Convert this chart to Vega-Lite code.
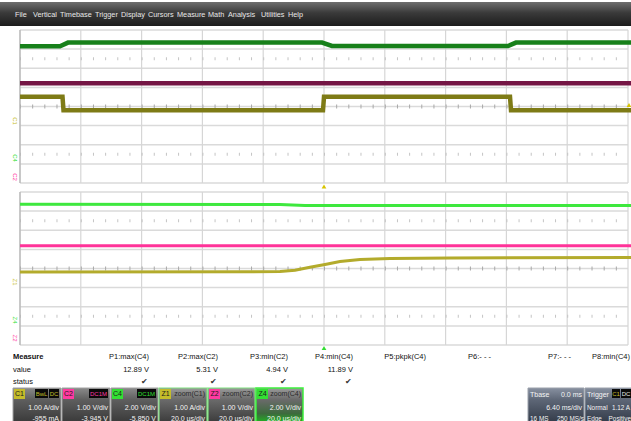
{
  "$schema": "https://vega.github.io/schema/vega-lite/v6.json",
  "width": 631,
  "height": 421,
  "padding": 0,
  "autosize": {"type": "none"},
  "background": "white",
  "config": {
    "view": {"stroke": null},
    "text": {"font": "Liberation Sans", "baseline": "middle"}
  },
  "encoding": {
    "x": {"field": "x", "type": "quantitative", "scale": {"domain": [0, 631], "nice": false, "zero": false}, "axis": null},
    "y": {"field": "y", "type": "quantitative", "scale": {"domain": [0, 421], "nice": false, "zero": false, "reverse": true}, "axis": null}
  },
  "layer": [
    {
      "data": {"values": [{"x": 0, "x2": 631, "y": 2, "y2": 26}]},
      "mark": {"type": "rect", "color": {"gradient": "linear", "x1": 0, "y1": 0, "x2": 0, "y2": 1, "stops": [{"offset": 0, "color": "#6e6e6e"}, {"offset": 0.45, "color": "#3a3a3a"}, {"offset": 1, "color": "#1c1c1c"}]}},
      "encoding": {"x2": {"field": "x2"}, "y2": {"field": "y2"}}
    },
    {
      "data": {"values": [
        {"x": 15, "y": 15, "t": "File"}, {"x": 33, "y": 15, "t": "Vertical"}, {"x": 60, "y": 15, "t": "Timebase"},
        {"x": 95, "y": 15, "t": "Trigger"}, {"x": 121, "y": 15, "t": "Display"}, {"x": 148, "y": 15, "t": "Cursors"},
        {"x": 177, "y": 15, "t": "Measure"}, {"x": 208, "y": 15, "t": "Math"}, {"x": 228, "y": 15, "t": "Analysis"},
        {"x": 261, "y": 15, "t": "Utilities"}, {"x": 288, "y": 15, "t": "Help"}
      ]},
      "mark": {"type": "text", "align": "left", "color": "#e8e8e8", "fontSize": 7.3},
      "encoding": {"text": {"field": "t"}}
    },
    {
      "data": {"values": [
        {"x": 20, "x2": 628, "y": 30}, {"x": 20, "x2": 628, "y": 49.1}, {"x": 20, "x2": 628, "y": 68.3}, {"x": 20, "x2": 628, "y": 87.4},
        {"x": 20, "x2": 628, "y": 106.5}, {"x": 20, "x2": 628, "y": 125.6}, {"x": 20, "x2": 628, "y": 144.8}, {"x": 20, "x2": 628, "y": 163.9},
        {"x": 20, "x2": 628, "y": 183},
        {"x": 20, "x2": 628, "y": 192}, {"x": 20, "x2": 628, "y": 211.1}, {"x": 20, "x2": 628, "y": 230.3}, {"x": 20, "x2": 628, "y": 249.4},
        {"x": 20, "x2": 628, "y": 268.5}, {"x": 20, "x2": 628, "y": 287.6}, {"x": 20, "x2": 628, "y": 306.8}, {"x": 20, "x2": 628, "y": 325.9},
        {"x": 20, "x2": 628, "y": 345}
      ]},
      "mark": {"type": "rule", "color": "#dadada", "strokeWidth": 1.5},
      "encoding": {"x2": {"field": "x2"}}
    },
    {
      "data": {"values": [
        {"x": 20, "y": 30, "y2": 183}, {"x": 80.8, "y": 30, "y2": 183}, {"x": 141.6, "y": 30, "y2": 183}, {"x": 202.4, "y": 30, "y2": 183},
        {"x": 263.2, "y": 30, "y2": 183}, {"x": 324, "y": 30, "y2": 183}, {"x": 384.8, "y": 30, "y2": 183}, {"x": 445.6, "y": 30, "y2": 183},
        {"x": 506.4, "y": 30, "y2": 183}, {"x": 567.2, "y": 30, "y2": 183}, {"x": 628, "y": 30, "y2": 183},
        {"x": 20, "y": 192, "y2": 345}, {"x": 80.8, "y": 192, "y2": 345}, {"x": 141.6, "y": 192, "y2": 345}, {"x": 202.4, "y": 192, "y2": 345},
        {"x": 263.2, "y": 192, "y2": 345}, {"x": 324, "y": 192, "y2": 345}, {"x": 384.8, "y": 192, "y2": 345}, {"x": 445.6, "y": 192, "y2": 345},
        {"x": 506.4, "y": 192, "y2": 345}, {"x": 567.2, "y": 192, "y2": 345}, {"x": 628, "y": 192, "y2": 345}
      ]},
      "mark": {"type": "rule", "color": "#d6d6d6", "strokeWidth": 1.2},
      "encoding": {"y2": {"field": "y2"}}
    },
    {
      "data": {"values": [
        {"x": 20, "x2": 628, "y": 58.7}, {"x": 20, "x2": 628, "y": 154.3},
        {"x": 20, "x2": 628, "y": 220.7}, {"x": 20, "x2": 628, "y": 316.3}
      ]},
      "mark": {"type": "rule", "color": "#c4c4c4", "strokeWidth": 3, "strokeDash": [1, 11.16]},
      "encoding": {"x2": {"field": "x2"}}
    },
    {
      "data": {"values": [
        {"x": 20, "x2": 628, "y": 106.5}, {"x": 20, "x2": 628, "y": 268.5}
      ]},
      "mark": {"type": "rule", "color": "#a8a8a8", "strokeWidth": 4, "strokeDash": [1, 11.16]},
      "encoding": {"x2": {"field": "x2"}}
    },
    {
      "data": {"values": [
        {"x": 20, "y": 30, "y2": 183}, {"x": 20, "y": 192, "y2": 345}
      ]},
      "mark": {"type": "rule", "color": "#b4b4b4", "strokeWidth": 1.2},
      "encoding": {"y2": {"field": "y2"}}
    },
    {
      "data": {"values": [
        {"ch": "C4", "x": 20, "y": 46.2}, {"ch": "C4", "x": 60, "y": 46.2}, {"ch": "C4", "x": 68, "y": 42.6}, {"ch": "C4", "x": 322, "y": 42.6},
        {"ch": "C4", "x": 332, "y": 46}, {"ch": "C4", "x": 508, "y": 46}, {"ch": "C4", "x": 516, "y": 42.6}, {"ch": "C4", "x": 631, "y": 42.6},
        {"ch": "C2", "x": 20, "y": 83.3}, {"ch": "C2", "x": 631, "y": 83.3},
        {"ch": "C1", "x": 20, "y": 96.8}, {"ch": "C1", "x": 62.5, "y": 96.8}, {"ch": "C1", "x": 63.5, "y": 110.3}, {"ch": "C1", "x": 323, "y": 110.3},
        {"ch": "C1", "x": 324, "y": 96.8}, {"ch": "C1", "x": 510, "y": 96.8}, {"ch": "C1", "x": 511, "y": 110.3}, {"ch": "C1", "x": 631, "y": 110.3}
      ]},
      "mark": {"type": "line", "strokeWidth": 4.5},
      "encoding": {"color": {"field": "ch", "type": "nominal", "legend": null,
        "scale": {"domain": ["C4", "C2", "C1", "Z4", "Z2", "Z1"], "range": ["#17801a", "#751645", "#7e7b16", "#3ee83e", "#ff3399", "#b3ab2c"]}}}
    },
    {
      "data": {"values": [
        {"ch": "Z4", "x": 20, "y": 204.2}, {"ch": "Z4", "x": 280, "y": 204.5}, {"ch": "Z4", "x": 305, "y": 205.4}, {"ch": "Z4", "x": 631, "y": 205.4},
        {"ch": "Z2", "x": 20, "y": 245.7}, {"ch": "Z2", "x": 631, "y": 245.7},
        {"ch": "Z1", "x": 20, "y": 272}, {"ch": "Z1", "x": 280, "y": 271.6}, {"ch": "Z1", "x": 295, "y": 270.2}, {"ch": "Z1", "x": 310, "y": 267.2},
        {"ch": "Z1", "x": 325, "y": 264.5}, {"ch": "Z1", "x": 340, "y": 261.6}, {"ch": "Z1", "x": 360, "y": 259.6}, {"ch": "Z1", "x": 390, "y": 258.5},
        {"ch": "Z1", "x": 450, "y": 257.9}, {"ch": "Z1", "x": 631, "y": 257.5}
      ]},
      "mark": {"type": "line", "strokeWidth": 3},
      "encoding": {"color": {"field": "ch", "type": "nominal", "legend": null,
        "scale": {"domain": ["C4", "C2", "C1", "Z4", "Z2", "Z1"], "range": ["#17801a", "#751645", "#7e7b16", "#3ee83e", "#ff3399", "#b3ab2c"]}}}
    },
    {
      "data": {"values": [
        {"ch": "C1", "x": 15, "y": 121, "t": "C1"}, {"ch": "C4", "x": 15, "y": 158, "t": "C4"}, {"ch": "C2", "x": 15, "y": 177, "t": "C2"},
        {"ch": "Z1", "x": 15, "y": 282, "t": "Z1"}, {"ch": "Z4", "x": 15, "y": 320, "t": "Z4"}, {"ch": "Z2", "x": 15, "y": 338, "t": "Z2"}
      ]},
      "mark": {"type": "text", "align": "center", "fontSize": 6, "angle": 90},
      "encoding": {"text": {"field": "t"}, "fill": {"field": "ch", "type": "nominal", "legend": null,
        "scale": {"domain": ["C1", "C2", "C4", "Z1", "Z2", "Z4"], "range": ["#c4bc2a", "#ff3aa0", "#33e033", "#c4bc2a", "#ff3aa0", "#33e033"]}}}
    },
    {
      "data": {"values": [{"x": 324, "y": 186.5}, {"x": 629, "y": 105}]},
      "mark": {"type": "point", "shape": "triangle-up", "filled": true, "size": 22, "color": "#d8c400", "opacity": 1}
    },
    {
      "data": {"values": [{"x": 324, "y": 348}]},
      "mark": {"type": "point", "shape": "triangle-up", "filled": true, "size": 22, "color": "#33dd33", "opacity": 1}
    },
    {
      "data": {"values": [{"x": 13, "y": 357, "t": "Measure"}]},
      "mark": {"type": "text", "align": "left", "fontSize": 7.5, "fontWeight": "bold", "color": "#111"},
      "encoding": {"text": {"field": "t"}}
    },
    {
      "data": {"values": [{"x": 13, "y": 370, "t": "value"}, {"x": 13, "y": 382, "t": "status"}]},
      "mark": {"type": "text", "align": "left", "fontSize": 7.5, "color": "#111"},
      "encoding": {"text": {"field": "t"}}
    },
    {
      "data": {"values": [
        {"x": 149, "y": 357, "t": "P1:max(C4)"}, {"x": 218, "y": 357, "t": "P2:max(C2)"}, {"x": 288, "y": 357, "t": "P3:min(C2)"},
        {"x": 353, "y": 357, "t": "P4:min(C4)"}, {"x": 426, "y": 357, "t": "P5:pkpk(C4)"}, {"x": 491, "y": 357, "t": "P6:- - -"},
        {"x": 571, "y": 357, "t": "P7:- - -"}, {"x": 630, "y": 357, "t": "P8:min(C4)"},
        {"x": 149, "y": 370, "t": "12.89 V"}, {"x": 218, "y": 370, "t": "5.31 V"}, {"x": 288, "y": 370, "t": "4.94 V"}, {"x": 353, "y": 370, "t": "11.89 V"}
      ]},
      "mark": {"type": "text", "align": "right", "fontSize": 7.5, "color": "#111"},
      "encoding": {"text": {"field": "t"}}
    },
    {
      "data": {"values": [
        {"x": 148, "y": 382, "t": "✔"}, {"x": 217, "y": 382, "t": "✔"}, {"x": 287, "y": 382, "t": "✔"}, {"x": 352, "y": 382, "t": "✔"}
      ]},
      "mark": {"type": "text", "align": "right", "fontSize": 7.5, "color": "#333"},
      "encoding": {"text": {"field": "t"}}
    },
    {
      "data": {"values": [
        {"x": 13, "x2": 61, "y": 388, "y2": 422}, {"x": 62, "x2": 110, "y": 388, "y2": 422}, {"x": 111, "x2": 158, "y": 388, "y2": 422}
      ]},
      "mark": {"type": "rect", "stroke": "#a0a0a0", "strokeWidth": 1, "color": {"gradient": "linear", "x1": 0, "y1": 0, "x2": 0, "y2": 1, "stops": [{"offset": 0, "color": "#8a8a8a"}, {"offset": 0.35, "color": "#5e5e5e"}, {"offset": 1, "color": "#3a3a3a"}]}},
      "encoding": {"x2": {"field": "x2"}, "y2": {"field": "y2"}}
    },
    {
      "data": {"values": [
        {"x": 159, "x2": 207, "y": 388, "y2": 422}, {"x": 208, "x2": 255, "y": 388, "y2": 422}
      ]},
      "mark": {"type": "rect", "stroke": "#7ee07e", "strokeWidth": 1.2, "color": {"gradient": "linear", "x1": 0, "y1": 0, "x2": 0, "y2": 1, "stops": [{"offset": 0, "color": "#9a9a9a"}, {"offset": 0.35, "color": "#6a6a6a"}, {"offset": 1, "color": "#3c3c3c"}]}},
      "encoding": {"x2": {"field": "x2"}, "y2": {"field": "y2"}}
    },
    {
      "data": {"values": [
        {"x": 256, "x2": 303, "y": 388, "y2": 422}
      ]},
      "mark": {"type": "rect", "stroke": "#3cf03c", "strokeWidth": 1.5, "color": {"gradient": "linear", "x1": 0, "y1": 0, "x2": 0, "y2": 1, "stops": [{"offset": 0, "color": "#9a9a9a"}, {"offset": 0.35, "color": "#6a6a6a"}, {"offset": 0.75, "color": "#3d6a3d"}, {"offset": 1, "color": "#22b022"}]}},
      "encoding": {"x2": {"field": "x2"}, "y2": {"field": "y2"}}
    },
    {
      "data": {"values": [
        {"x": 528, "x2": 584, "y": 388, "y2": 422}, {"x": 585, "x2": 632, "y": 388, "y2": 422}
      ]},
      "mark": {"type": "rect", "stroke": "#9aa0aa", "strokeWidth": 1, "color": {"gradient": "linear", "x1": 0, "y1": 0, "x2": 0, "y2": 1, "stops": [{"offset": 0, "color": "#8790a0"}, {"offset": 0.35, "color": "#5d6676"}, {"offset": 1, "color": "#343c4a"}]}},
      "encoding": {"x2": {"field": "x2"}, "y2": {"field": "y2"}}
    },
    {
      "data": {"values": [
        {"ch": "C1", "x": 14, "x2": 25, "y": 389, "y2": 399}, {"ch": "C2", "x": 63, "x2": 74, "y": 389, "y2": 399},
        {"ch": "C4", "x": 112, "x2": 123, "y": 389, "y2": 399}, {"ch": "Z1", "x": 160, "x2": 171, "y": 389, "y2": 399},
        {"ch": "Z2", "x": 209, "x2": 220, "y": 389, "y2": 399}, {"ch": "Z4", "x": 257, "x2": 268, "y": 389, "y2": 399}
      ]},
      "mark": {"type": "rect"},
      "encoding": {"x2": {"field": "x2"}, "y2": {"field": "y2"}, "fill": {"field": "ch", "type": "nominal", "legend": null,
        "scale": {"domain": ["C1", "C2", "C4", "Z1", "Z2", "Z4"], "range": ["#c4bc2a", "#ff3aa0", "#33e033", "#c4bc2a", "#ff3aa0", "#33e033"]}}}
    },
    {
      "data": {"values": [
        {"x": 19.5, "y": 394, "t": "C1"}, {"x": 68.5, "y": 394, "t": "C2"}, {"x": 117.5, "y": 394, "t": "C4"},
        {"x": 165.5, "y": 394, "t": "Z1"}, {"x": 214.5, "y": 394, "t": "Z2"}, {"x": 262.5, "y": 394, "t": "Z4"}
      ]},
      "mark": {"type": "text", "align": "center", "fontSize": 7, "color": "#1a1a1a"},
      "encoding": {"text": {"field": "t"}}
    },
    {
      "data": {"values": [
        {"x": 35, "x2": 48, "y": 389, "y2": 398}, {"x": 49, "x2": 59, "y": 389, "y2": 398},
        {"x": 89, "x2": 108, "y": 389, "y2": 398}, {"x": 137, "x2": 156, "y": 389, "y2": 398},
        {"x": 612, "x2": 620, "y": 389, "y2": 398}, {"x": 621, "x2": 631, "y": 389, "y2": 398}
      ]},
      "mark": {"type": "rect", "color": "#0a0a0a"},
      "encoding": {"x2": {"field": "x2"}, "y2": {"field": "y2"}}
    },
    {
      "data": {"values": [
        {"ch": "C1", "x": 41.5, "y": 393.5, "t": "BwL"}, {"ch": "C1", "x": 54, "y": 393.5, "t": "DC"},
        {"ch": "C2", "x": 98.5, "y": 393.5, "t": "DC1M"}, {"ch": "C4", "x": 146.5, "y": 393.5, "t": "DC1M"},
        {"ch": "C1", "x": 616, "y": 393.5, "t": "C1"}
      ]},
      "mark": {"type": "text", "align": "center", "fontSize": 6},
      "encoding": {"text": {"field": "t"}, "fill": {"field": "ch", "type": "nominal", "legend": null,
        "scale": {"domain": ["C1", "C2", "C4", "Z1", "Z2", "Z4"], "range": ["#c4bc2a", "#ff3aa0", "#33e033", "#c4bc2a", "#ff3aa0", "#33e033"]}}}
    },
    {
      "data": {"values": [{"x": 626, "y": 393.5, "t": "DC"}]},
      "mark": {"type": "text", "align": "center", "fontSize": 6, "color": "#e8e8e8"},
      "encoding": {"text": {"field": "t"}}
    },
    {
      "data": {"values": [
        {"x": 205, "y": 394, "t": "zoom(C1)"}, {"x": 253, "y": 394, "t": "zoom(C2)"}, {"x": 301, "y": 394, "t": "zoom(C4)"}
      ]},
      "mark": {"type": "text", "align": "right", "fontSize": 7, "color": "#2a2a2a"},
      "encoding": {"text": {"field": "t"}}
    },
    {
      "data": {"values": [
        {"x": 59, "y": 408, "t": "1.00 A/div"}, {"x": 108, "y": 408, "t": "1.00 V/div"}, {"x": 156, "y": 408, "t": "2.00 V/div"},
        {"x": 205, "y": 408, "t": "1.00 A/div"}, {"x": 253, "y": 408, "t": "1.00 V/div"}, {"x": 301, "y": 408, "t": "2.00 V/div"},
        {"x": 59, "y": 418.5, "t": "-955 mA"}, {"x": 108, "y": 418.5, "t": "-3.945 V"}, {"x": 156, "y": 418.5, "t": "-5.850 V"},
        {"x": 205, "y": 418.5, "t": "20.0 µs/div"}, {"x": 253, "y": 418.5, "t": "20.0 µs/div"}, {"x": 301, "y": 418.5, "t": "20.0 µs/div"},
        {"x": 582, "y": 395, "t": "0.0 ms"}, {"x": 582, "y": 408, "t": "6.40 ms/div"}
      ]},
      "mark": {"type": "text", "align": "right", "fontSize": 7, "color": "#f4f4f4"},
      "encoding": {"text": {"field": "t"}}
    },
    {
      "data": {"values": [
        {"x": 584, "y": 418.5, "t": "250 MS/s"},
        {"x": 630, "y": 408, "t": "1.12 A"}, {"x": 631, "y": 418.5, "t": "Positive"}
      ]},
      "mark": {"type": "text", "align": "right", "fontSize": 6.4, "color": "#f4f4f4"},
      "encoding": {"text": {"field": "t"}}
    },
    {
      "data": {"values": [
        {"x": 530, "y": 395, "t": "Tbase"},
        {"x": 587, "y": 395, "t": "Trigger"}
      ]},
      "mark": {"type": "text", "align": "left", "fontSize": 7, "color": "#f4f4f4"},
      "encoding": {"text": {"field": "t"}}
    },
    {
      "data": {"values": [
        {"x": 530, "y": 418.5, "t": "16 MS"},
        {"x": 587, "y": 408, "t": "Normal"}, {"x": 587, "y": 418.5, "t": "Edge"}
      ]},
      "mark": {"type": "text", "align": "left", "fontSize": 6.4, "color": "#f4f4f4"},
      "encoding": {"text": {"field": "t"}}
    }
  ]
}
